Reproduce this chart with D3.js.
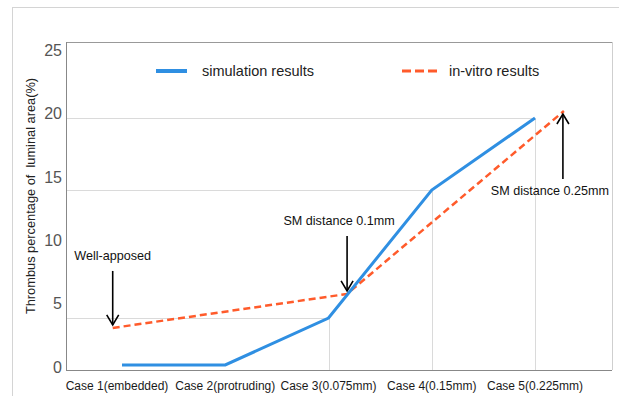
<!DOCTYPE html>
<html>
<head>
<meta charset="utf-8">
<script src="https://cdn.jsdelivr.net/npm/d3@7"></script>
<style>
  body { margin: 0; background: #fff; }
  text { font-family: "Liberation Sans", Arial, sans-serif; }
</style>
</head>
<body>
<div id="chart"></div>
<script>
// data
var cases = ["Case 1(embedded)", "Case 2(protruding)", "Case 3(0.075mm)", "Case 4(0.15mm)", "Case 5(0.225mm)"];
var simValues = [0.16, 0.16, 3.86, 13.96, 19.64];
// in-vitro points sit a little off the case positions in the original
var vitroPos = [0.91, 3.18, 5.28];
var vitroValues = [3.08, 5.76, 20.19];
var yTicks = [0, 5, 10, 15, 20, 25];
var notes = ["Well-apposed", "SM distance 0.1mm", "SM distance 0.25mm"];

var svgWidth = 619;
var svgHeight = 396;

var plot = { left: 66, right: 612, top: 42, bottom: 370 };

var svg = d3.select("#chart")
  .append("svg")
  .attr("width", svgWidth)
  .attr("height", svgHeight);

// outer frame
svg.append("rect")
  .attr("x", 12.5).attr("y", 7.5)
  .attr("width", 700).attr("height", 500)
  .attr("fill", "none")
  .attr("stroke", "#d4d4d4");

var xScale = d3.scaleLinear()
  .domain([1, 5])
  .range([122, 535]);

var yScale = d3.scaleLinear()
  .domain([0, 25])
  .range([367, 50]);

// plot frame
svg.append("line")
  .attr("x1", plot.left).attr("x2", plot.right)
  .attr("y1", plot.top + 0.5).attr("y2", plot.top + 0.5)
  .attr("stroke", "#999");
svg.append("line")
  .attr("x1", plot.right + 0.5).attr("x2", plot.right + 0.5)
  .attr("y1", plot.top).attr("y2", plot.bottom)
  .attr("stroke", "#cfcfcf");

// drop lines from the simulation points
var drops = simValues.map((v, i) => ({ i: i + 1, v: v })).filter(d => d.v > 1);
svg.selectAll(".hdrop")
  .data(drops)
  .enter()
  .append("line")
  .attr("x1", plot.left)
  .attr("x2", d => xScale(d.i))
  .attr("y1", d => Math.round(yScale(d.v)) + 0.5)
  .attr("y2", d => Math.round(yScale(d.v)) + 0.5)
  .attr("stroke", "#dadada");
svg.selectAll(".vdrop")
  .data(drops)
  .enter()
  .append("line")
  .attr("x1", d => Math.round(xScale(d.i)) + 0.5)
  .attr("x2", d => Math.round(xScale(d.i)) + 0.5)
  .attr("y1", d => yScale(d.v))
  .attr("y2", plot.bottom)
  .attr("stroke", "#dadada");

// left and bottom axis lines
svg.append("line")
  .attr("x1", plot.left + 0.5).attr("x2", plot.left + 0.5)
  .attr("y1", plot.top).attr("y2", plot.bottom)
  .attr("stroke", "#888");
svg.append("line")
  .attr("x1", plot.left).attr("x2", plot.right)
  .attr("y1", plot.bottom + 0.5).attr("y2", plot.bottom + 0.5)
  .attr("stroke", "#888");

// y tick labels
svg.selectAll(".ytick")
  .data(yTicks)
  .enter()
  .append("text")
  .attr("x", 62)
  .attr("y", d => yScale(d))
  .attr("dy", "0.36em")
  .attr("text-anchor", "end")
  .attr("font-size", 16)
  .attr("fill", "#555")
  .text(d => d);

// case labels
svg.selectAll(".xtick")
  .data(cases)
  .enter()
  .append("text")
  .attr("x", (d, i) => xScale(i + 1) - (i === 0 ? 5 : 0))
  .attr("y", 390)
  .attr("text-anchor", "middle")
  .attr("font-size", 12)
  .attr("fill", "#1a1a1a")
  .text(d => d);

// y axis title
svg.append("text")
  .attr("transform", "translate(35, 196) rotate(-90)")
  .attr("text-anchor", "middle")
  .attr("font-size", 12.8)
  .attr("fill", "#222")
  .style("white-space", "pre")
  .text("Thrombus percentage of  luminal area(%)");

// lines
var simLine = d3.line()
  .x((d, i) => xScale(i + 1))
  .y(d => yScale(d));

var vitroLine = d3.line()
  .x((d, i) => xScale(vitroPos[i]))
  .y(d => yScale(d));

svg.append("path")
  .datum(vitroValues)
  .attr("d", vitroLine)
  .attr("fill", "none")
  .attr("stroke", "#ff5b2b")
  .attr("stroke-width", 2.5)
  .attr("stroke-dasharray", "7,4");

svg.append("path")
  .datum(simValues)
  .attr("d", simLine)
  .attr("fill", "none")
  .attr("stroke", "#2f8fe2")
  .attr("stroke-width", 3);

// legend
svg.append("line")
  .attr("x1", 156).attr("x2", 187)
  .attr("y1", 71).attr("y2", 71)
  .attr("stroke", "#2f8fe2")
  .attr("stroke-width", 4);
svg.append("text")
  .attr("x", 202).attr("y", 71).attr("dy", "0.35em")
  .attr("font-size", 14.5).attr("fill", "#222")
  .text("simulation results");
svg.append("line")
  .attr("x1", 402).attr("x2", 437)
  .attr("y1", 71).attr("y2", 71)
  .attr("stroke", "#ff5b2b")
  .attr("stroke-width", 3)
  .attr("stroke-dasharray", "9,4");
svg.append("text")
  .attr("x", 449).attr("y", 71).attr("dy", "0.35em")
  .attr("font-size", 14.5).attr("fill", "#222")
  .text("in-vitro results");

// annotations: arrow to each in-vitro point
var noteDir = [1, 1, -1];       // 1 = arrow points down, -1 = up
var noteLen = [54, 55, 65];
var noteDx = [0, -8, -13];      // text offset from the arrow
notes.forEach(function(label, i) {
  var ax = xScale(vitroPos[i]) - (i === 2 ? 1 : 0);
  var ay = yScale(vitroValues[i]);
  var dir = noteDir[i];
  var tip = ay - dir * 3;
  var tail = tip - dir * noteLen[i];
  var g = svg.append("g")
    .attr("stroke", "#000")
    .attr("stroke-width", 1.6)
    .attr("fill", "none");
  g.append("line")
    .attr("x1", ax).attr("x2", ax)
    .attr("y1", tail).attr("y2", tip);
  g.append("path")
    .attr("d", `M${ax - 6},${tip - dir * 10}L${ax},${tip}L${ax + 6},${tip - dir * 10}`);
  svg.append("text")
    .attr("x", ax + noteDx[i])
    .attr("y", dir === 1 ? tail - 15 : tail + 12)
    .attr("dy", "0.35em")
    .attr("text-anchor", "middle")
    .attr("font-size", 12.6)
    .attr("fill", "#111")
    .text(label);
});
</script>
</body>
</html>
